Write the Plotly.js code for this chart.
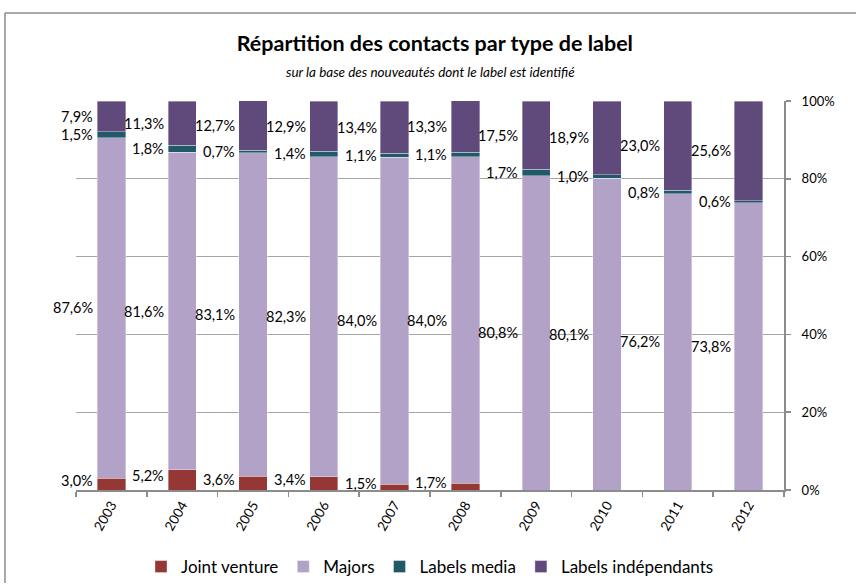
<!DOCTYPE html>
<html>
<head>
<meta charset="utf-8">
<script src="https://cdn.plot.ly/plotly-3.0.1.min.js"></script>
<style>
  html, body { margin: 0; padding: 0; background: #fff; }
  #chart { width: 856px; height: 586px; }
</style>
</head>
<body>
<div id="chart"></div>
<script>
// ---- Data ----
const years = ['2003','2004','2005','2006','2007','2008','2009','2010','2011','2012'];
const jointVenture = [3.0, 5.2, 3.6, 3.4, 1.5, 1.7, 0, 0, 0, 0];
const majors       = [87.6, 81.6, 83.1, 82.3, 84.0, 84.0, 80.8, 80.1, 76.2, 73.8];
const labelsMedia  = [1.5, 1.8, 0.7, 1.4, 1.1, 1.1, 1.7, 1.0, 0.8, 0.6];
const labelsIndep  = [7.9, 11.3, 12.7, 12.9, 13.4, 13.3, 17.5, 18.9, 23.0, 25.6];
const seriesNames  = ['Joint venture', 'Majors', 'Labels media', 'Labels indépendants'];
const yTicks = [0, 20, 40, 60, 80, 100];

// ---- Styles ----
const colors = ['#953735', '#B3A2C7', '#215968', '#604A7B'];
const FONT = 'Lato, "Open Sans", sans-serif';
const seriesData = [jointVenture, majors, labelsMedia, labelsIndep];
const labelYShift = [4, 0, 0, 0];

const fmt = v => v.toFixed(1).replace('.', ',') + '%';

const traces = seriesData.map((vals, i) => ({
  type: 'bar',
  name: seriesNames[i],
  x: years,
  y: vals,
  marker: { color: colors[i], line: { color: 'rgba(255,255,255,0.6)', width: 0.6 } },
  hoverinfo: 'x+y+name'
}));

// data labels to the left of each bar, at segment centers
const annotations = [];
const base = years.map(() => 0);
seriesData.forEach((vals, si) => {
  vals.forEach((v, ci) => {
    if (v > 0) {
      annotations.push({
        xref: 'x', yref: 'y',
        x: ci, y: base[ci] + v / 2,
        text: fmt(v),
        showarrow: false,
        xanchor: 'right', yanchor: 'middle',
        xshift: -16, yshift: labelYShift[si],
        font: { family: FONT, size: 14.5, color: '#000' }
      });
    }
    base[ci] += v;
  });
});

// subtitle
annotations.push({
  xref: 'paper', yref: 'paper',
  x: 0.5, y: 1.0746, xanchor: 'center', yanchor: 'middle',
  text: '<i>sur la base des nouveautés dont le label est identifié</i>',
  showarrow: false,
  font: { family: FONT, size: 13.5, color: '#000' }
});

const layout = {
  width: 856, height: 586,
  margin: { l: 76, r: 72, t: 101, b: 96, autoexpand: false },
  paper_bgcolor: '#fff', plot_bgcolor: '#fff',
  barmode: 'stack',
  bargap: 0.6,
  font: { family: FONT, size: 13, color: '#000' },
  title: {
    text: 'Répartition des contacts par type de label',
    x: 0.508, xanchor: 'center', xref: 'container',
    y: 1 - 43 / 586, yanchor: 'middle', yref: 'container',
    font: { family: FONT, size: 21.5, weight: 700, color: '#000' }
  },
  xaxis: {
    type: 'category',
    range: [-0.5, years.length - 0.5],
    tickangle: -60,
    showline: true, linecolor: '#8c8c8c', linewidth: 2,
    ticks: 'outside', tickson: 'boundaries', ticklen: 5, tickcolor: '#8c8c8c', tickwidth: 1.5,
    showgrid: false, zeroline: false,
    tickfont: { family: FONT, size: 13.5, color: '#000' },
    fixedrange: true
  },
  yaxis: {
    side: 'right',
    range: [0, 100],
    tickvals: yTicks,
    ticktext: yTicks.map(t => t + '%'),
    showline: true, linecolor: '#8c8c8c', linewidth: 2,
    ticks: 'outside', ticklen: 5, tickcolor: '#8c8c8c', tickwidth: 1.5,
    showgrid: true, gridcolor: '#a6a6a6', gridwidth: 1.3,
    zeroline: false,
    ticklabelstandoff: 8,
    tickfont: { family: FONT, size: 13, color: '#000' },
    fixedrange: true
  },
  legend: {
    orientation: 'h',
    xref: 'paper', yref: 'container',
    x: 0.5, xanchor: 'center',
    y: (586 - 567) / 586, yanchor: 'middle',
    font: { family: FONT, size: 17, color: '#000' },
    traceorder: 'normal',
    itemwidth: 30
  },
  annotations: annotations,
  shapes: [
    { type: 'line', xref: 'paper', yref: 'paper', x0: -0.1003, x1: 1.11, y0: 1.2262, y1: 1.2262,
      line: { color: '#8c8c8c', width: 1.5 } },
    { type: 'line', xref: 'paper', yref: 'paper', x0: -0.1003, x1: -0.1003, y0: 1.2262, y1: -0.2391,
      line: { color: '#8c8c8c', width: 1.5 } }
  ],
  showlegend: true
};

Plotly.newPlot('chart', traces, layout, { displayModeBar: false, staticPlot: true });
</script>
</body>
</html>
